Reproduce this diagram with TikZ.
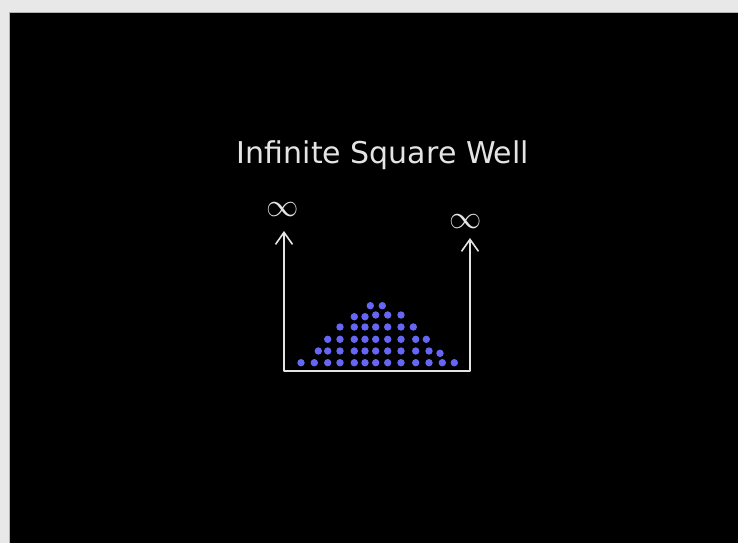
\documentclass[tikz,border=0pt]{standalone}
\usepackage{fontspec}
\setmainfont{DejaVu Sans}
\usetikzlibrary{arrows.meta}
\definecolor{chalk}{RGB}{228,228,228}
\definecolor{dotblue}{RGB}{102,102,245}
\definecolor{frame}{RGB}{232,232,232}
\tikzset{
  wellline/.style={draw=chalk, line width=1.6pt, line cap=round, line join=round},
  infty/.style={text=chalk, inner sep=0pt, font=\fontsize{24.88}{25}\selectfont},
  particle/.style={fill=dotblue},
}
\begin{document}
\begin{tikzpicture}[x=1pt,y=-1pt]
\useasboundingbox (0,0) rectangle (738,543);
\fill[frame] (0,0) rectangle (738,543);
\fill[black] (9,12) rectangle (738,543);
\draw[black!30, line width=0.8pt] (9,543) -- (9,12) -- (738,12);
% title
\node[text=chalk, anchor=base, inner sep=0pt, font=\fontsize{30}{30}\selectfont] (title) at (383,163) {Infinite Square Well};
% well
\coordinate (lt) at (284,231);
\coordinate (lb) at (284,371);
\coordinate (rb) at (470,371);
\coordinate (rt) at (470,238);
\draw[wellline, {Straight Barb[length=12pt,width=17pt,line width=1.6pt]}-{Straight Barb[length=12pt,width=17pt,line width=1.6pt]}] (lt) -- (lb) -- (rb) -- (rt);
\node[infty] (infl) at (283,210) {\scalebox{1.3}{$\infty$}};
\node[infty] (infr) at (466,222) {\scalebox{1.3}{$\infty$}};
% particles
\foreach \x/\y in {
 301/362.7, 314.3/362.7, 327.7/362.7, 340/362.7, 354.3/362.7, 365/362.7, 375.7/362.7, 387.7/362.7, 401/362.7, 415.7/362.7, 429/362.7, 442.3/362.7, 454.3/362.7,
 318.3/351, 327.7/351, 340/351, 354.3/351, 365/351, 375.7/351, 387.7/351, 401/351, 415.7/351, 429/351, 440/353.3,
 327.7/339.3, 340/339.3, 354.3/339.3, 365/339.3, 375.7/339.3, 387.7/339.3, 401/339.3, 415.7/339.3, 426.3/339.3,
 340/327, 354.3/327, 365/327, 375.7/327, 387.7/327, 401/327, 413.3/327,
 354.3/316.7, 365/316.7, 375.7/315, 387.7/315, 401/315,
 370.3/305.7, 382.3/305.7}
 \fill[particle] (\x,\y) circle[radius=3.7];
\end{tikzpicture}
\end{document}
